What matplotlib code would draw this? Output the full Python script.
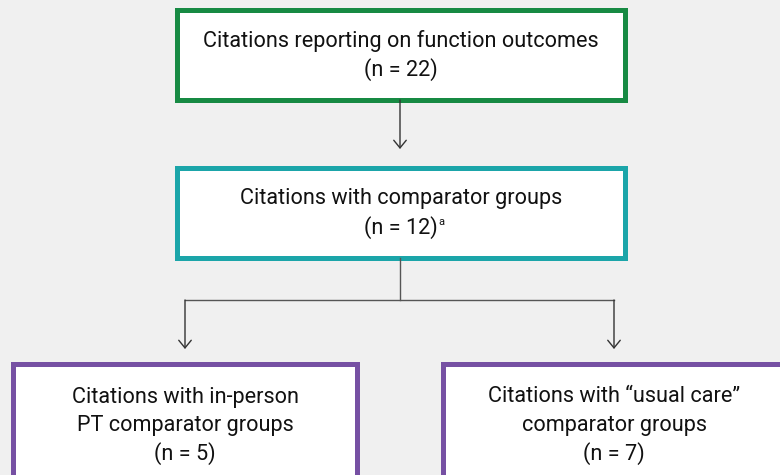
import matplotlib.pyplot as plt
from matplotlib.patches import Rectangle

# flow chart content
labels = ["Citations reporting on function outcomes",
          "Citations with comparator groups",
          "Citations with in-person\nPT comparator groups",
          "Citations with \u201cusual care\u201d\ncomparator groups"]
counts = [22, 12, 5, 7]
notes = ["", "a", "", ""]
colors = ["#178A43", "#1BA5A9", "#7650A3", "#7650A3"]

# box geometry in pixels (x0, y0, x1, y1), y down
boxes = [(177, 10, 625, 100),
         (177, 168, 625, 258),
         (13, 364, 357, 520),
         (443, 364, 785, 520)]

plt.rcParams['font.family'] = ['Roboto', 'DejaVu Sans']

fig = plt.figure(figsize=(7.8, 4.75), dpi=100)
fig.patch.set_facecolor('#F0F0F0')
ax = fig.add_axes([0, 0, 1, 1])
ax.set_xlim(0, 780)
ax.set_ylim(475, 0)
ax.axis('off')

fs = 15.6
line_h = 28.5

for (x0, y0, x1, y1), lab, n, note, c in zip(boxes, labels, counts, notes, colors):
    ax.add_patch(Rectangle((x0, y0), x1 - x0, y1 - y0, facecolor='white',
                           edgecolor=c, lw=3.6))
    lines = lab.split("\n") + ["(n = %d)" % n]
    cx = (x0 + x1) / 2
    if y1 - y0 < 120:
        top = (y0 + y1) / 2 - line_h * (len(lines) - 1) / 2
    else:
        top = 397
    for i, s in enumerate(lines):
        t = ax.text(cx, top + i * line_h, s, ha='center', va='center',
                    fontsize=fs, color='#111111')
    if note:
        fig.canvas.draw()
        bb = t.get_window_extent()
        x_end, _ = ax.transData.inverted().transform((bb.x1, bb.y1))
        ax.text(x_end + 0.5, top + (len(lines) - 1) * line_h - 5, note,
                ha='left', va='center', fontsize=8, color='#111111')

lc = '#555555'
arrow = dict(arrowstyle='->,head_length=0.55,head_width=0.45', color='#333333',
             lw=1.0, shrinkA=0, shrinkB=0)

# top to middle
ax.annotate('', xy=(400, 149), xytext=(400, 100), arrowprops=arrow)
# middle to split
ax.plot([400, 400], [258, 300], color=lc, lw=1.0)
ax.plot([185, 614], [300, 300], color=lc, lw=1.0)
ax.annotate('', xy=(185, 349), xytext=(185, 300), arrowprops=arrow)
ax.annotate('', xy=(614, 349), xytext=(614, 300), arrowprops=arrow)

fig.savefig('out.png', dpi=100, facecolor=fig.get_facecolor())
